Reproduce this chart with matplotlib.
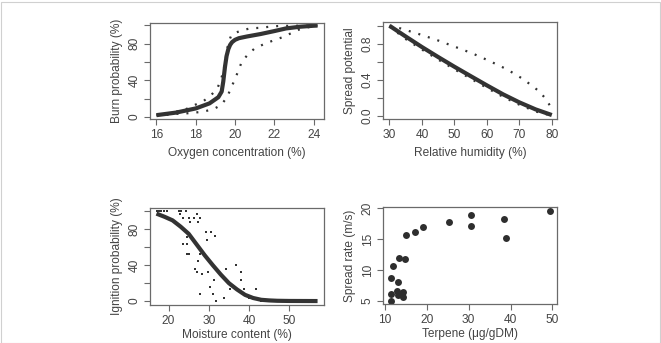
import matplotlib
matplotlib.use("Agg")
import matplotlib.pyplot as plt
from matplotlib.patches import Rectangle

plt.rcParams['font.family'] = ['Liberation Sans', 'DejaVu Sans']

# ---------------- data ----------------
# Panel A: burn probability vs oxygen
burn_x = [16.0, 17.0, 18.0, 18.7, 19.15, 19.32, 19.40, 19.49, 19.57, 19.66, 19.75,
          19.85, 20.0, 20.2, 20.6, 21.3, 22.0, 22.6, 23.3, 24.0, 24.2]
burn_fit = [2.2, 5.0, 9.5, 15, 21.7, 27.8, 38.6, 55, 66.5, 74, 78.5,
            81.5, 84, 85.8, 87.6, 90.3, 93.5, 96.4, 98.2, 99.3, 99.5]
burn_hi_x = [16.0, 16.5, 17.0, 17.45, 17.92, 18.38, 18.76, 19.1, 19.28, 19.4, 19.5,
             19.57, 19.66, 19.83, 20.3, 20.76, 21.24, 21.75, 22.2, 23.0, 24.2]
burn_hi = [2.8, 3.6, 6, 8.2, 13, 17.3, 23.4, 31.4, 40.4, 50, 60,
           70, 80.8, 90, 94, 96.4, 97, 98.2, 99, 99.3, 99.5]
burn_lo_x = [16.0, 16.5, 17.0, 17.45, 17.96, 18.38, 18.9, 19.3, 19.6, 19.79, 19.99,
             20.17, 20.34, 20.65, 21.0, 21.48, 21.96, 22.4, 22.84, 23.28, 23.76, 24.2]
burn_lo = [2.0, 2.5, 3.6, 4.0, 5, 6, 8.7, 13.3, 22, 31.4, 41,
           50.5, 60, 68, 74.7, 79.4, 83.4, 86.7, 91, 95.3, 97.8, 99]

# Panel B: spread potential vs relative humidity
rh_x = [30, 35, 40, 45, 50, 55, 60, 65, 70, 75, 80]
sp_fit = [1.0, 0.88, 0.763, 0.652, 0.544, 0.44, 0.337, 0.237, 0.148, 0.07, 0.007]
sp_lo = [0.99, 0.852, 0.735, 0.624, 0.516, 0.412, 0.309, 0.209, 0.122, 0.047, 0.0]
sp_hi_x = [30, 33.3, 39.0, 44.6, 50.1, 55.5, 60.8, 66.2, 71.3, 76.0, 78.0, 79.5, 80]
sp_hi = [1.0, 0.971, 0.908, 0.841, 0.767, 0.693, 0.608, 0.515, 0.404, 0.274, 0.193, 0.108, 0.08]

# Panel C: ignition probability vs moisture content
mc = [17.1, 17.6, 18.2, 18.8, 19.6, 22.5, 23.1, 24.4, 22.9, 23.5, 25.2, 25.3, 26.4,
      27.0, 27.8, 27.4, 23.5, 24.7, 24.6, 24.7, 25.2, 26.5, 27.1, 27.4, 27.8, 28.4,
      27.8, 28.9, 29.2, 29.6, 30.5, 29.9, 31.5, 31.3, 30.3, 31.1, 31.8, 33.7, 34.2,
      35.2, 36.8, 36.8, 38.1, 38.1, 38.8, 40.0, 41.8, 43.0, 43.8, 44.6, 45.5, 46.3]
ip = [100, 100, 100, 100, 100, 100, 100, 100, 97, 93, 93, 88.5, 93,
      97, 93, 88.5, 64, 64, 72, 52, 52, 36, 33, 45, 52, 30,
      8, 52, 77, 68, 77, 33, 72.5, 24, 16, 8, 0, 4, 36,
      13, 13, 40, 33, 24, 13, 3, 13, 0, 0, 0, 0, 0]
ign_x = [17, 19, 21, 23, 25, 27, 29, 31, 33, 35, 37, 39, 41, 43, 45, 47, 50, 57]
ign_fit = [97.5, 94, 90, 83, 75, 63, 51, 40, 29.5, 20, 13, 7, 3.5, 1.5, 0.8, 0.4, 0.2, 0.1]

# Panel D: spread rate vs terpene
terp = [11.4, 11.4, 11.4, 11.9, 13.0, 12.85, 13.0, 14.35, 14.27, 13.4,
        14.74, 15.1, 17.2, 19.1, 25.2, 30.5, 30.5, 38.4, 38.85, 49.5]
rate = [4.95, 6.14, 8.63, 10.7, 8.1, 6.6, 5.9, 6.46, 5.54, 11.93,
        11.82, 15.67, 16.1, 16.9, 17.72, 18.97, 17.13, 18.26, 15.23, 19.62]

# ---------------- style ----------------
W, H = 661, 343
TXT = '#444444'
EDGE = '#6a6a6a'
LINE = '#333333'
FS = 8.6

fig = plt.figure(figsize=(W / 100, H / 100), dpi=100)
fig.patches.append(Rectangle((0.5 / W, 0.5 / H), (W - 2) / W, (H - 2) / H,
                             transform=fig.transFigure, fill=False,
                             edgecolor='#d0d0d0', linewidth=0.8))


def make_ax(x0, y_top, x1, y_bot):
    ax = fig.add_axes([x0 / W, (H - y_bot) / H, (x1 - x0) / W, (y_bot - y_top) / H])
    for s in ax.spines.values():
        s.set_color(EDGE)
        s.set_linewidth(0.9)
    ax.tick_params(direction='out', length=4, width=0.8, color=EDGE,
                   labelcolor=TXT, labelsize=FS, pad=3)
    return ax


def style_labels(ax, xlabel, ylabel, xw, yh, xoff=34):
    for t in ax.get_yticklabels():
        t.set_rotation(90)
        t.set_va('center')
    ax.text(0.5, -xoff / yh, xlabel, transform=ax.transAxes, ha='center',
            va='center', fontsize=FS, color=TXT)
    ax.text(-33 / xw, 0.5, ylabel, transform=ax.transAxes, ha='center',
            va='center', rotation=90, fontsize=FS, color=TXT)


dot_kw = dict(color=LINE, linewidth=1.6, linestyle=(0, (0.9, 3.6)),
              dash_capstyle='butt')
fit_kw = dict(color=LINE, linewidth=3.0, solid_capstyle='butt',
              solid_joinstyle='round')

# Panel A
ax1 = make_ax(150, 22.7, 324, 119.3)
ax1.plot(burn_hi_x, burn_hi, **dot_kw)
ax1.plot(burn_lo_x, burn_lo, **dot_kw)
ax1.plot(burn_x, burn_fit, **fit_kw)
ax1.set_xlim(15.67, 24.53)
ax1.set_ylim(-2.3, 102.6)
ax1.set_xticks([16, 18, 20, 22, 24])
ax1.set_yticks([0, 20, 40, 60, 80, 100])
ax1.set_yticklabels(['0', '', '40', '', '80', ''])
style_labels(ax1, 'Oxygen concentration (%)', 'Burn probability (%)', 174, 96.6)

# Panel B
ax2 = make_ax(383.3, 22.3, 557, 119)
ax2.plot(rh_x, sp_lo, **dot_kw)
ax2.plot(sp_hi_x, sp_hi, **dot_kw)
ax2.plot(rh_x, sp_fit, **fit_kw)
ax2.set_xlim(28.1, 81.6)
ax2.set_ylim(-0.037, 1.038)
ax2.set_xticks([30, 40, 50, 60, 70, 80])
ax2.set_yticks([0, 0.2, 0.4, 0.6, 0.8, 1.0])
ax2.set_yticklabels(['0.0', '', '0.4', '', '0.8', ''])
style_labels(ax2, 'Relative humidity (%)', 'Spread potential', 174, 96.7)

# Panel C
ax3 = make_ax(150, 207.7, 324, 305)
ax3.plot(mc, ip, linestyle='none', marker='s', markersize=1.7, color=LINE,
         markeredgewidth=0)
ax3.plot(ign_x, ign_fit, **fit_kw)
ax3.set_xlim(15.4, 58.6)
ax3.set_ylim(-4.3, 104.1)
ax3.set_xticks([20, 30, 40, 50])
ax3.set_yticks([0, 20, 40, 60, 80, 100])
ax3.set_yticklabels(['0', '', '40', '', '80', ''])
style_labels(ax3, 'Moisture content (%)', 'Ignition probability (%)', 174, 97.3, xoff=30)

# Panel D
ax4 = make_ax(383.3, 207.3, 557, 304.3)
ax4.plot(terp, rate, linestyle='none', marker='o', markersize=5.0,
         color='#2e2e2e', markeredgewidth=0)
ax4.set_xlim(9.6, 51.1)
ax4.set_ylim(4.42, 20.18)
ax4.set_xticks([10, 20, 30, 40, 50])
ax4.set_yticks([5, 10, 15, 20])
style_labels(ax4, 'Terpene (μg/gDM)', 'Spread rate (m/s)', 174, 97, xoff=30)

fig.savefig('out.png', dpi=100)
